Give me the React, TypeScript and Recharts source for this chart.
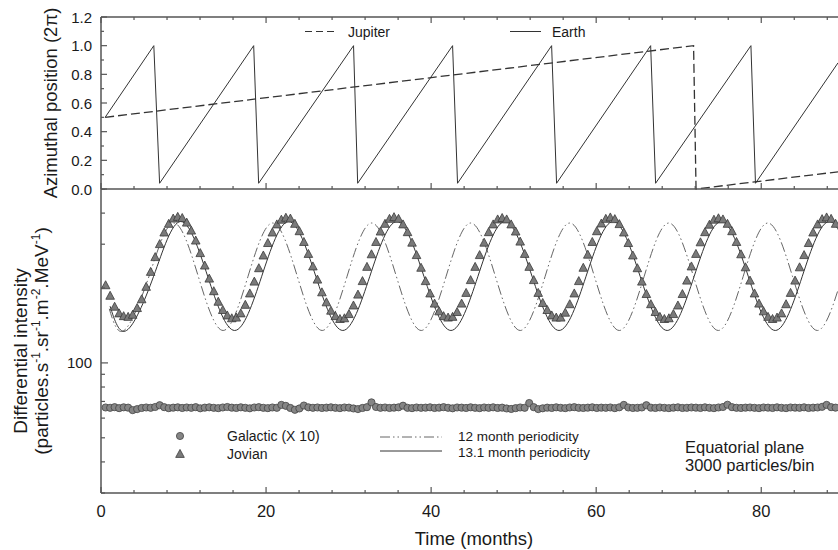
import React from "react";
import { ComposedChart, Line, Scatter, XAxis, YAxis, Customized } from "recharts";

const FONT = "'Liberation Sans', Arial, Helvetica, sans-serif";
const AXIS = "#555";
const INK = "#1a1a1a";
const W = 838;
const X_MAX = 89.3;

const monthTicks = [0, 4, 8, 12, 16, 20, 24, 28, 32, 36, 40, 44, 48, 52, 56, 60, 64, 68, 72, 76, 80, 84, 88];
const positionTicks = [0, 0.1, 0.2, 0.3, 0.4, 0.5, 0.6, 0.7, 0.8, 0.9, 1.0, 1.1, 1.2];
const intensityTicks = [30, 40, 50, 60, 70, 80, 90, 100, 200, 300, 400, 500];

// top panel: azimuthal position (units of 2pi)
const earthMonths = [0.5, 6.4, 7.1, 18.5, 19.1, 30.6, 31.1, 42.6, 43.2, 54.6, 55.2, 66.6, 67.2, 78.75, 79.3, 89.3];
const earthPosition = [0.5, 1.0, 0.04, 1.0, 0.04, 1.0, 0.04, 1.0, 0.04, 1.0, 0.04, 1.0, 0.04, 1.0, 0.04, 0.88];
const jupiterMonths = [0.5, 71.8, 72.1, 89.3];
const jupiterPosition = [0.5, 1.0, 0.0, 0.12];

// bottom panel: fitted periodicities
const fit12Months = [1.0, 2.8, 5.8, 8.8, 11.8, 14.8, 17.8, 20.8, 23.8, 26.8, 29.8, 32.8, 35.8, 38.8, 41.8, 44.8,
  47.8, 50.8, 53.8, 56.8, 59.8, 62.8, 65.8, 68.8, 71.8, 74.8, 77.8, 80.8, 83.8, 86.8, 89.8];
const fit12Values = [165, 135, 222, 365, 222, 135, 222, 365, 222, 135, 222, 365, 222, 135, 222, 365,
  222, 135, 222, 365, 222, 135, 222, 365, 222, 135, 222, 365, 222, 135, 222];
const fit131Months = [1.1, 3.1, 6.375, 9.65, 12.925, 16.2, 19.475, 22.75, 26.025, 29.3, 32.575, 35.85, 39.125,
  42.4, 45.675, 48.95, 52.225, 55.5, 58.775, 62.05, 65.325, 68.6, 71.875, 75.15, 78.425, 81.7, 84.975, 88.25, 91.525];
const fit131Values = [169, 135, 223, 370, 223, 135, 223, 370, 223, 135, 223, 370, 223, 135,
  223, 370, 223, 135, 223, 370, 223, 135, 223, 370, 223, 135, 223, 370, 223];

// simulated counts, one bin every 0.546 months starting at 0.56
const binStart = 0.56;
const binStep = 0.546;
const jovian = [
  205, 186, 168, 158, 154, 153, 156, 166, 180, 202, 232, 266, 300, 334, 362, 380, 386, 382, 366, 340, 310, 276, 246, 218,
  194, 176, 163, 155, 151, 152, 158, 171, 190, 212, 240, 270, 303, 334, 360, 376, 383, 380, 362, 338, 306, 274, 244, 216,
  192, 175, 162, 154, 150, 151, 157, 170, 188, 213, 243, 273, 306, 337, 362, 379, 385, 379, 360, 335, 304, 271, 241, 213,
  190, 173, 161, 154, 152, 153, 160, 173, 191, 215, 243, 271, 304, 335, 360, 377, 382, 377, 360, 337, 307, 274, 243, 215,
  191, 174, 163, 155, 152, 152, 159, 172, 190, 213, 241, 272, 306, 338, 363, 379, 384, 378, 361, 334, 303, 270, 240, 212,
  189, 172, 160, 153, 150, 151, 157, 170, 189, 214, 244, 274, 305, 335, 359, 376, 381, 377, 362, 338, 306, 273, 242, 214,
  190, 173, 161, 153, 150, 152, 158, 172, 191, 214, 242, 271, 303, 334, 360, 378, 384, 379, 362,
];
const galactic = [
  66.2, 66.0, 66.4, 65.8, 66.3, 66.1, 64.6, 65.2, 65.9, 66.2, 66.0, 66.5,
  67.6, 66.4, 65.8, 66.1, 66.3, 65.9, 66.2, 66.0, 66.4, 65.7, 66.1, 66.3,
  66.0, 65.8, 66.2, 66.5, 66.1, 65.9, 66.3, 66.0, 65.7, 66.2, 66.4, 66.0,
  65.8, 66.2, 66.0, 67.8, 67.2, 65.9, 64.8, 65.6, 67.4, 66.3, 66.0, 66.2,
  65.9, 66.1, 66.3, 66.0, 65.8, 66.2, 66.1, 65.6, 65.2, 65.9, 66.4, 69.4,
  66.5, 66.0, 66.2, 65.9, 66.1, 66.3, 67.3, 66.0, 65.8, 66.2, 66.0, 66.1,
  66.3, 65.9, 66.1, 66.4, 66.0, 65.7, 66.2, 66.1, 65.9, 66.3, 66.0, 65.8,
  66.2, 66.0, 66.3, 65.9, 66.1, 65.6, 65.3, 65.8, 66.2, 66.0, 69.0, 66.4,
  65.2, 65.7, 66.1, 65.9, 66.3, 66.0, 65.8, 66.2, 66.4, 66.0, 65.9, 66.1,
  66.3, 65.9, 66.1, 66.0, 66.2, 65.8, 66.3, 67.8, 66.2, 65.9, 66.0, 66.2,
  67.6, 66.1, 65.9, 66.2, 66.0, 65.8, 66.1, 66.3, 65.9, 66.0, 66.2, 66.1,
  65.9, 66.3, 66.0, 65.8, 66.2, 66.5, 67.9, 66.4, 66.0, 65.9, 66.1, 66.2,
  66.0, 65.8, 66.2, 66.1, 65.9, 66.3, 66.0, 65.8, 66.2, 66.1, 66.0, 66.3,
  65.9, 66.1, 66.2, 66.6, 67.8, 66.4, 66.1,
];

const zip = (xs: number[], ys: number[]) => xs.map((t, i) => ({ t, v: ys[i] }));
const binned = (ys: number[]) => ys.map((v, i) => ({ t: +(binStart + i * binStep).toFixed(3), v }));

const earthRows = zip(earthMonths, earthPosition);
const jupiterRows = zip(jupiterMonths, jupiterPosition);
const fit12Rows = zip(fit12Months, fit12Values);
const fit131Rows = zip(fit131Months, fit131Values);
const jovianRows = binned(jovian);
const galacticRows = binned(galactic);

const txt = { fontFamily: FONT, fill: INK };

const Triangle = (p: any) => {
  const { cx, cy } = p;
  if (cx == null || cy == null) return null;
  return <polygon points={`${cx},${cy - 4.6} ${cx - 4.3},${cy + 3.4} ${cx + 4.3},${cy + 3.4}`} fill="#7a7a7a" stroke="#3a3a3a" strokeWidth={0.8} />;
};
const Dot = (p: any) => {
  const { cx, cy } = p;
  if (cx == null || cy == null) return null;
  return <circle cx={cx} cy={cy} r={3.6} fill="#858585" stroke="#444" strokeWidth={0.8} />;
};

// ticks point inward, so the tick marks are drawn by hand
const monthTickUp = (labels: boolean) => (props: any) => {
  const { x, y, payload } = props;
  const major = payload.value % 20 === 0;
  return (
    <g>
      <line x1={x} x2={x} y1={y} y2={y - (major ? 6 : 3)} stroke={AXIS} strokeWidth={1.2} />
      {labels && major && (
        <text x={x} y={y + 24} textAnchor="middle" fontSize={16.5} {...txt}>{payload.value}</text>
      )}
    </g>
  );
};
const monthTickDown = (props: any) => {
  const { x, y, payload } = props;
  const major = payload.value % 20 === 0;
  return <line x1={x} x2={x} y1={y} y2={y + (major ? 6 : 3)} stroke={AXIS} strokeWidth={1.2} />;
};
const positionTick = (props: any) => {
  const { x, y, payload } = props;
  const major = Math.round(payload.value * 10) % 2 === 0;
  return (
    <g>
      <line x1={x} x2={x + (major ? 6 : 3)} y1={y} y2={y} stroke={AXIS} strokeWidth={1.2} />
      {major && (
        <text x={x - 9} y={y + 5.5} textAnchor="end" fontSize={15} {...txt}>{payload.value.toFixed(1)}</text>
      )}
    </g>
  );
};
const intensityTick = (props: any) => {
  const { x, y, payload } = props;
  const major = payload.value === 100;
  return (
    <g>
      <line x1={x} x2={x + (major ? 7 : 4)} y1={y} y2={y} stroke={AXIS} strokeWidth={1.2} />
      {major && (
        <text x={x - 9} y={y + 5.5} textAnchor="end" fontSize={15} {...txt}>100</text>
      )}
    </g>
  );
};

const TopNotes = () => (
  <g>
    <text transform="translate(57,103) rotate(-90)" textAnchor="middle" fontSize={18.5} {...txt}>
      Azimuthal position (2π)
    </text>
    <line x1={305} x2={336} y1={31.5} y2={31.5} stroke="#333" strokeDasharray="7 4" strokeWidth={1.2} />
    <text x={348} y={36.5} fontSize={14} {...txt}>Jupiter</text>
    <line x1={510} x2={541} y1={31.5} y2={31.5} stroke="#333" strokeWidth={1} />
    <text x={552} y={36.5} fontSize={14} {...txt}>Earth</text>
  </g>
);

const BottomNotes = () => (
  <g>
    <text transform="translate(27,162) rotate(-90)" textAnchor="middle" fontSize={19} {...txt}>
      Differential intensity
    </text>
    <text transform="translate(48,152) rotate(-90)" textAnchor="middle" fontSize={19} {...txt}>
      (particles.s<tspan dy={-8} fontSize={12}>-1</tspan>
      <tspan dy={8}>.sr</tspan><tspan dy={-8} fontSize={12}>-1</tspan>
      <tspan dy={8}>.m</tspan><tspan dy={-8} fontSize={12}>-2</tspan>
      <tspan dy={8}>.MeV</tspan><tspan dy={-8} fontSize={12}>-1</tspan>
      <tspan dy={8}>)</tspan>
    </text>
    <Dot cx={180} cy={247} />
    <text x={227} y={252} fontSize={14} {...txt}>Galactic (X 10)</text>
    <Triangle cx={180} cy={265} />
    <text x={227} y={270} fontSize={14} {...txt}>Jovian</text>
    <line x1={380} x2={442} y1={248} y2={248} stroke="#666" strokeDasharray="10 3 1.5 3 1.5 3" />
    <text x={458} y={252} fontSize={13.5} {...txt}>12 month periodicity</text>
    <line x1={380} x2={442} y1={262} y2={262} stroke="#333" />
    <text x={458} y={268} fontSize={13.5} {...txt}>13.1 month periodicity</text>
    <text x={685} y={264} fontSize={16.5} {...txt}>Equatorial plane</text>
    <text x={685} y={282} fontSize={16.5} {...txt}>3000 particles/bin</text>
    <text x={474} y={356} textAnchor="middle" fontSize={18.5} {...txt}>Time (months)</text>
  </g>
);

const axisLine = { stroke: AXIS, strokeWidth: 1.5 };

export default function App() {
  return (
    <div style={{ position: "absolute", left: 0, top: 0, width: W, height: 550, background: "#fff" }}>
      <div style={{ position: "absolute", left: 0, top: 0 }}>
        <ComposedChart width={W} height={200} margin={{ top: 16, right: 0, bottom: 10, left: 0 }}>
          <XAxis dataKey="t" type="number" domain={[0, X_MAX]} allowDataOverflow ticks={monthTicks} interval={0}
            height={1} tickSize={0} tickMargin={0} tickLine={false} axisLine={axisLine} tick={monthTickUp(false)} />
          <XAxis xAxisId="top" orientation="top" dataKey="t" type="number" domain={[0, X_MAX]} allowDataOverflow
            ticks={monthTicks} interval={0} height={1} tickSize={0} tickMargin={0} tickLine={false}
            axisLine={axisLine} tick={monthTickDown} />
          <YAxis type="number" domain={[0, 1.2]} ticks={positionTicks} interval={0} width={101} tickSize={0}
            tickMargin={0} tickLine={false} axisLine={axisLine} tick={positionTick} />
          <Line data={jupiterRows} dataKey="v" type="linear" stroke="#333" strokeWidth={1.3}
            strokeDasharray="9 4" dot={false} isAnimationActive={false} />
          <Line data={earthRows} dataKey="v" type="linear" stroke="#333" strokeWidth={1}
            dot={false} isAnimationActive={false} />
          <Customized component={TopNotes} />
        </ComposedChart>
      </div>
      <div style={{ position: "absolute", left: 0, top: 189 }}>
        <ComposedChart width={W} height={361} margin={{ top: 0, right: 0, bottom: 0, left: 0 }}>
          <XAxis dataKey="t" type="number" domain={[0, X_MAX]} allowDataOverflow ticks={monthTicks} interval={0}
            height={57} tickSize={0} tickMargin={0} tickLine={false} axisLine={axisLine} tick={monthTickUp(true)} />
          <YAxis dataKey="v" type="number" scale="log" domain={[30, 500]} allowDataOverflow ticks={intensityTicks}
            interval={0} width={101} tickSize={0} tickMargin={0} tickLine={false} axisLine={axisLine}
            tick={intensityTick} />
          <Line data={fit12Rows} dataKey="v" type="natural" stroke="#666" strokeWidth={1}
            strokeDasharray="10 3 1.5 3 1.5 3" dot={false} isAnimationActive={false} />
          <Line data={fit131Rows} dataKey="v" type="natural" stroke="#333" strokeWidth={1}
            dot={false} isAnimationActive={false} />
          <Scatter data={galacticRows} dataKey="v" shape={Dot} isAnimationActive={false} />
          <Scatter data={jovianRows} dataKey="v" shape={Triangle} isAnimationActive={false} />
          <Customized component={BottomNotes} />
        </ComposedChart>
      </div>
    </div>
  );
}
